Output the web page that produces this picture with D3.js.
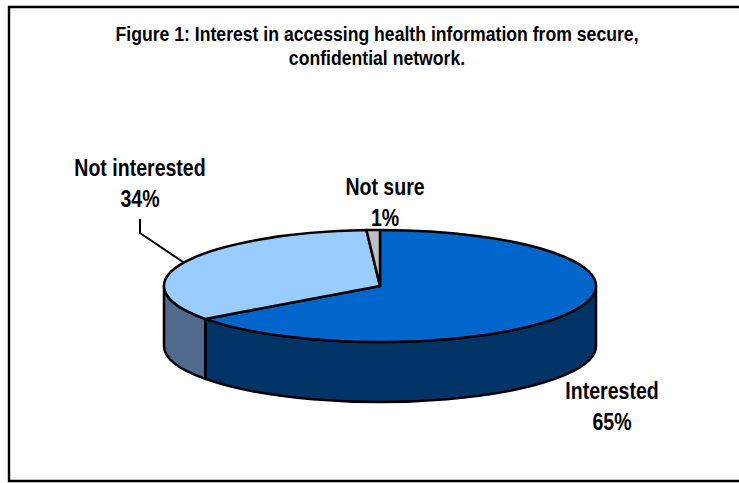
<!DOCTYPE html>
<html><head><meta charset="utf-8">
<script src="https://cdn.jsdelivr.net/npm/d3@7/dist/d3.min.js"></script>
<style>html,body{margin:0;padding:0;background:#fff}svg{display:block}
text{font-family:"Liberation Sans",Arial,sans-serif;font-weight:bold;fill:#000;text-anchor:middle}</style>
</head><body><svg id="c" width="739" height="483"></svg>
<script>
const categories = ["Interested","Not interested","Not sure"];
const values = [65,34,1];
const topColors = ["#0066CC","#99CCFF","#C0C0C0"];
const sideColors = ["#003366","#4F6A8C","#808080"];
const titleLines = ["Figure 1: Interest in accessing health information from secure,","confidential network."];

const svg = d3.select("#c");
const cx=380, cy=286, rx=216, ry=56, depth=60, sw=2.5;

svg.append("path").attr("d","M739,7H9V481H739").attr("fill","#fff").attr("stroke","#000").attr("stroke-width",2.4);

const narrow=(x,y,size,sx,t)=>svg.append("text").attr("transform",`translate(${x},${y}) scale(${sx},1)`).attr("font-size",size).text(t);

titleLines.forEach((t,i)=>narrow(377,41+i*24,20,0.882,t));

const pie = d3.pie().sort(null).value(d=>d).startAngle(0).endAngle(2*Math.PI);
const arcs = pie(values);
const px = d3.scaleLinear().domain([-1,1]).range([cx-rx,cx+rx]);
const py = d3.scaleLinear().domain([-1,1]).range([cy+ry,cy-ry]);
const pt = (a,dy=0)=>[px(Math.sin(a)),py(Math.cos(a))+dy];

const lo=Math.PI/2, hi=3*Math.PI/2;
const g = svg.append("g").attr("stroke","#000").attr("stroke-width",sw).attr("stroke-linejoin","round");
arcs.forEach((d,i)=>{
  const a0=Math.max(d.startAngle,lo), a1=Math.min(d.endAngle,hi);
  if(a1<=a0) return;
  const p0=pt(a0),p1=pt(a1),q1=pt(a1,depth),q0=pt(a0,depth);
  g.append("path").attr("fill",sideColors[i])
   .attr("d",`M${p0}A${rx},${ry} 0 0 1 ${p1}L${q1}A${rx},${ry} 0 0 0 ${q0}Z`);
});

const arcGen = d3.arc().innerRadius(0).outerRadius(rx);
const topG = g.append("g").attr("transform",`translate(${cx},${cy}) scale(1,${ry/rx})`);
topG.selectAll("path").data(arcs).join("path")
  .attr("d",arcGen).attr("fill",(d,i)=>topColors[i])
  .attr("vector-effect","non-scaling-stroke");

svg.append("path").attr("d","M140,219V233L183,262").attr("fill","none").attr("stroke","#000").attr("stroke-width",2);

const labelPos = [[612,399],[140,176],[385,195]];
const labelGap = [31,31,31];
categories.forEach((c,i)=>{
  const [x,y]=labelPos[i];
  narrow(x,y,23,0.85,c);
  narrow(x,y+labelGap[i],23,0.85,values[i]+"%");
});
</script></body></html>
